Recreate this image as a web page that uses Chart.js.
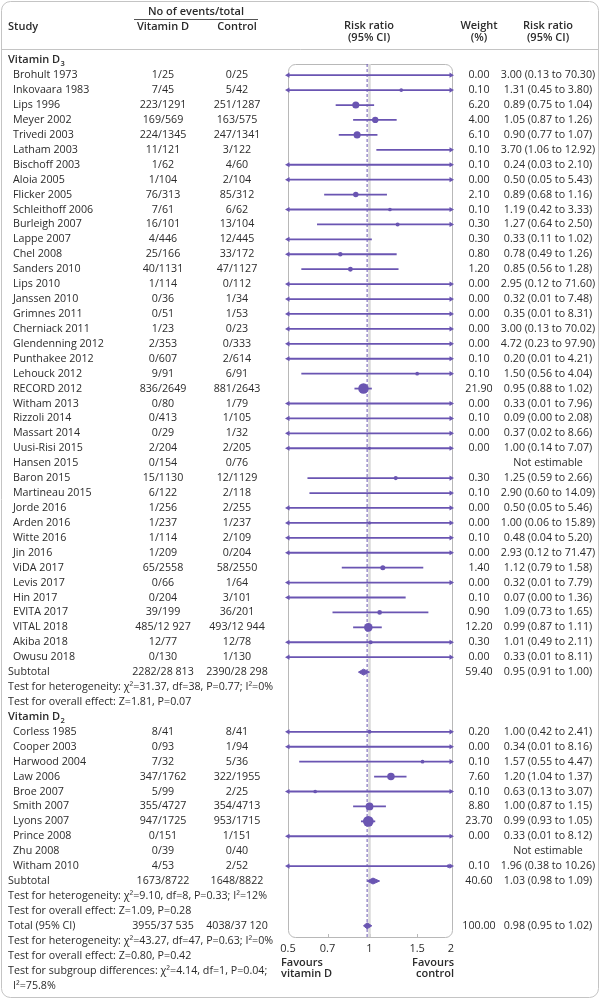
<!DOCTYPE html>
<html>
<head>
<meta charset="utf-8">
<script src="https://cdn.jsdelivr.net/npm/chart.js@4.4.1/dist/chart.umd.min.js"></script>
<style>
  html, body { margin: 0; padding: 0; background: #fff; }
  canvas { display: block; }
</style>
</head>
<body>
<canvas id="forest" width="601" height="1000"></canvas>
<script>
'use strict';

// Vitamin D3 trials
const d3Studies = ['Brohult 1973', 'Inkovaara 1983', 'Lips 1996', 'Meyer 2002', 'Trivedi 2003', 'Latham 2003',
  'Bischoff 2003', 'Aloia 2005', 'Flicker 2005', 'Schleithoff 2006', 'Burleigh 2007', 'Lappe 2007', 'Chel 2008',
  'Sanders 2010', 'Lips 2010', 'Janssen 2010', 'Grimnes 2011', 'Cherniack 2011', 'Glendenning 2012',
  'Punthakee 2012', 'Lehouck 2012', 'RECORD 2012', 'Witham 2013', 'Rizzoli 2014', 'Massart 2014',
  'Uusi-Risi 2015', 'Hansen 2015', 'Baron 2015', 'Martineau 2015', 'Jorde 2016', 'Arden 2016', 'Witte 2016',
  'Jin 2016', 'ViDA 2017', 'Levis 2017', 'Hin 2017', 'EVITA 2017', 'VITAL 2018', 'Akiba 2018', 'Owusu 2018'];
const d3VitD = ['1/25', '7/45', '223/1291', '169/569', '224/1345', '11/121', '1/62', '1/104', '76/313', '7/61',
  '16/101', '4/446', '25/166', '40/1131', '1/114', '0/36', '0/51', '1/23', '2/353', '0/607', '9/91', '836/2649',
  '0/80', '0/413', '0/29', '2/204', '0/154', '15/1130', '6/122', '1/256', '1/237', '1/114', '1/209', '65/2558',
  '0/66', '0/204', '39/199', '485/12 927', '12/77', '0/130'];
const d3Control = ['0/25', '5/42', '251/1287', '163/575', '247/1341', '3/122', '4/60', '2/104', '85/312', '6/62',
  '13/104', '12/445', '33/172', '47/1127', '0/112', '1/34', '1/53', '0/23', '0/333', '2/614', '6/91', '881/2643',
  '1/79', '1/105', '1/32', '2/205', '0/76', '12/1129', '2/118', '2/255', '1/237', '2/109', '0/204', '58/2550',
  '1/64', '3/101', '36/201', '493/12 944', '12/78', '1/130'];
const d3Weight = [0.00, 0.10, 6.20, 4.00, 6.10, 0.10, 0.10, 0.00, 2.10, 0.10, 0.30, 0.30, 0.80, 1.20, 0.00, 0.00,
  0.00, 0.00, 0.00, 0.10, 0.10, 21.90, 0.00, 0.10, 0.00, 0.00, null, 0.30, 0.10, 0.00, 0.00, 0.10, 0.00, 1.40,
  0.00, 0.10, 0.90, 12.20, 0.30, 0.00];
const d3RR = [3.00, 1.31, 0.89, 1.05, 0.90, 3.70, 0.24, 0.50, 0.89, 1.19, 1.27, 0.33, 0.78, 0.85, 2.95, 0.32,
  0.35, 3.00, 4.72, 0.20, 1.50, 0.95, 0.33, 0.09, 0.37, 1.00, null, 1.25, 2.90, 0.50, 1.00, 0.48, 2.93, 1.12,
  0.32, 0.07, 1.09, 0.99, 1.01, 0.33];
const d3Low = [0.13, 0.45, 0.75, 0.87, 0.77, 1.06, 0.03, 0.05, 0.68, 0.42, 0.64, 0.11, 0.49, 0.56, 0.12, 0.01,
  0.01, 0.13, 0.23, 0.01, 0.56, 0.88, 0.01, 0.00, 0.02, 0.14, null, 0.59, 0.60, 0.05, 0.06, 0.04, 0.12, 0.79,
  0.01, 0.00, 0.73, 0.87, 0.49, 0.01];
const d3High = [70.30, 3.80, 1.04, 1.26, 1.07, 12.92, 2.10, 5.43, 1.16, 3.33, 2.50, 1.02, 1.26, 1.28, 71.60, 7.48,
  8.31, 70.02, 97.90, 4.21, 4.04, 1.02, 7.96, 2.08, 8.66, 7.07, null, 2.66, 14.09, 5.46, 15.89, 5.20, 71.47, 1.58,
  7.79, 1.36, 1.65, 1.11, 2.11, 8.11];
const d3Tests = ['Test for heterogeneity: χ²=31.37, df=38, P=0.77; I²=0%', 'Test for overall effect: Z=1.81, P=0.07'];

// Vitamin D2 trials
const d2Studies = ['Corless 1985', 'Cooper 2003', 'Harwood 2004', 'Law 2006', 'Broe 2007', 'Smith 2007',
  'Lyons 2007', 'Prince 2008', 'Zhu 2008', 'Witham 2010'];
const d2VitD = ['8/41', '0/93', '7/32', '347/1762', '5/99', '355/4727', '947/1725', '0/151', '0/39', '4/53'];
const d2Control = ['8/41', '1/94', '5/36', '322/1955', '2/25', '354/4713', '953/1715', '1/151', '0/40', '2/52'];
const d2Weight = [0.20, 0.00, 0.10, 7.60, 0.10, 8.80, 23.70, 0.00, null, 0.10];
const d2RR = [1.00, 0.34, 1.57, 1.20, 0.63, 1.00, 0.99, 0.33, null, 1.96];
const d2Low = [0.42, 0.01, 0.55, 1.04, 0.13, 0.87, 0.93, 0.01, null, 0.38];
const d2High = [2.41, 8.16, 4.47, 1.37, 3.07, 1.15, 1.05, 8.12, null, 10.26];
const d2Tests = ['Test for heterogeneity: χ²=9.10, df=8, P=0.33; I²=12%', 'Test for overall effect: Z=1.09, P=0.28'];

// pooled rows: D3 subtotal, D2 subtotal, total
const pooledLabels = ['Subtotal', 'Subtotal', 'Total (95% CI)'];
const pooledVitD = ['2282/28 813', '1673/8722', '3955/37 535'];
const pooledControl = ['2390/28 298', '1648/8822', '4038/37 120'];
const pooledWeight = [59.40, 40.60, 100.00];
const pooledRR = [0.95, 1.03, 0.98];
const pooledLow = [0.91, 0.98, 0.95];
const pooledHigh = [1.00, 1.09, 1.02];
const totalTests = ['Test for heterogeneity: χ²=43.27, df=47, P=0.63; I²=0%', 'Test for overall effect: Z=0.80, P=0.42',
  'Test for subgroup differences: χ²=4.14, df=1, P=0.04;'];
const totalTestsCont = 'I²=75.8%';

const xTicks = [0.5, 0.7, 1, 1.5, 2];

const PURPLE = '#6a55b2';
const TEXT = '#2b2b2b';
const FONT = '"Open Sans", sans-serif';
const X_MIN = 0.5, X_MAX = 2;

// build the row list, top to bottom
const rows = [];
function addStudies(names, vitD, ctrl, w, rr, lo, hi) {
  names.forEach((n, i) => rows.push({ kind: 'study', label: n, vitD: vitD[i], ctrl: ctrl[i], w: w[i], rr: rr[i], lo: lo[i], hi: hi[i] }));
}
function addPooled(i) {
  rows.push({ kind: 'pooled', label: pooledLabels[i], vitD: pooledVitD[i], ctrl: pooledControl[i], w: pooledWeight[i], rr: pooledRR[i], lo: pooledLow[i], hi: pooledHigh[i] });
}
rows.push({ kind: 'group', label: 'Vitamin D', sub: '3' });
addStudies(d3Studies, d3VitD, d3Control, d3Weight, d3RR, d3Low, d3High);
addPooled(0);
d3Tests.forEach(t => rows.push({ kind: 'note', label: t }));
rows.push({ kind: 'group', label: 'Vitamin D', sub: '2' });
addStudies(d2Studies, d2VitD, d2Control, d2Weight, d2RR, d2Low, d2High);
addPooled(1);
d2Tests.forEach(t => rows.push({ kind: 'note', label: t }));
addPooled(2);
totalTests.forEach(t => rows.push({ kind: 'note', label: t }));
rows.push({ kind: 'note2', label: totalTestsCont });
rows.forEach((r, i) => { r.y = i - 1; });

const clamp = v => Math.min(X_MAX, Math.max(X_MIN, v));
const studyRows = rows.filter(r => r.kind === 'study' && r.rr != null);
const pooledRows = rows.filter(r => r.kind === 'pooled');

// CI lines
const ciSets = studyRows.map(r => ({
  type: 'line',
  data: [{ x: clamp(r.lo), y: r.y }, { x: clamp(r.hi), y: r.y }],
  borderColor: PURPLE, borderWidth: 1.8, pointRadius: 0, fill: false
}));

// arrow heads where the CI runs off the scale
const arrows = [];
studyRows.forEach(r => {
  if (r.lo < X_MIN) arrows.push({ x: X_MIN, y: r.y, rot: 270 });
  if (r.hi > X_MAX) arrows.push({ x: X_MAX, y: r.y, rot: 90 });
});

// pooled diamonds
const diamondSets = pooledRows.map(r => ({
  type: 'line',
  data: [{ x: r.lo, y: r.y }, { x: r.rr, y: r.y - 0.2 }, { x: r.hi, y: r.y }, { x: r.rr, y: r.y + 0.2 }, { x: r.lo, y: r.y }],
  borderColor: PURPLE, backgroundColor: PURPLE, borderWidth: 1, pointRadius: 0, fill: 'shape'
}));

const Y_MIN = -0.75, Y_MAX = 57.75;

const datasets = [
  {
    data: studyRows.map(r => ({ x: r.rr, y: r.y })),
    pointRadius: studyRows.map(r => 1.6 + 0.78 * Math.sqrt(r.w)),
    pointBackgroundColor: PURPLE, pointBorderWidth: 0
  },
  {
    data: arrows.map(a => ({ x: a.x, y: a.y })),
    pointStyle: 'triangle',
    rotation: arrows.map(a => a.rot),
    pointRadius: 3, pointBackgroundColor: PURPLE, pointBorderWidth: 0,
    clip: false
  },
  ...diamondSets,
  ...ciSets,
  {
    type: 'line',
    data: [{ x: pooledRR[2], y: Y_MIN }, { x: pooledRR[2], y: Y_MAX }],
    borderColor: PURPLE, borderWidth: 1, borderDash: [3, 2], pointRadius: 0, fill: false
  },
  {
    type: 'line',
    data: [{ x: 1, y: Y_MIN }, { x: 1, y: Y_MAX }],
    borderColor: '#dadada', borderWidth: 2.5, pointRadius: 0, fill: false
  }
];

function roundRect(ctx, x, y, w, h, r) {
  ctx.beginPath();
  ctx.moveTo(x + r, y);
  ctx.arcTo(x + w, y, x + w, y + h, r);
  ctx.arcTo(x + w, y + h, x, y + h, r);
  ctx.arcTo(x, y + h, x, y, r);
  ctx.arcTo(x, y, x + w, y, r);
  ctx.closePath();
}

function txt(ctx, s, x, y, align, bold, size) {
  ctx.font = (bold ? '600 ' : '') + (size || 10.7) + 'px ' + FONT;
  ctx.textAlign = align || 'left';
  ctx.textBaseline = 'middle';
  ctx.fillStyle = TEXT;
  ctx.fillText(s, x, y);
}

const COL = { group: 8, study: 13, vitD: 163, ctrl: 237, plot: 369, weight: 479, rr: 548 };
const fmtRR = r => r.rr == null ? 'Not estimable' : `${r.rr.toFixed(2)} (${r.lo.toFixed(2)} to ${r.hi.toFixed(2)})`;

const forestText = {
  id: 'forestText',
  beforeDraw(chart) {
    const ctx = chart.ctx;
    ctx.save();
    ctx.strokeStyle = '#c4c4c4';
    ctx.lineWidth = 1;
    roundRect(ctx, 1.5, 1.5, 597, 996, 9);
    ctx.stroke();
    ctx.beginPath();
    ctx.moveTo(1.5, 49.5);
    ctx.lineTo(599, 49.5);
    ctx.stroke();
    ctx.restore();
  },
  beforeDatasetsDraw(chart) {
    const ctx = chart.ctx, a = chart.chartArea;
    ctx.save();
    ctx.strokeStyle = '#b8b8b8';
    ctx.lineWidth = 1;
    roundRect(ctx, a.left + 0.5, a.top + 0.5, a.right - a.left + 1, a.bottom - a.top, 7);
    ctx.stroke();
    // small inner tick marks
    const xs = chart.scales.x;
    xs.ticks.forEach(t => {
      if (t.value === X_MIN || t.value === X_MAX) return;
      const px = Math.round(xs.getPixelForValue(t.value)) + 0.5;
      ctx.beginPath();
      ctx.moveTo(px, a.bottom);
      ctx.lineTo(px, a.bottom - 3);
      ctx.stroke();
    });
    ctx.restore();
  },
  afterDraw(chart) {
    const ctx = chart.ctx, ys = chart.scales.y, a = chart.chartArea;
    ctx.save();
    // column headers
    txt(ctx, 'No of events/total', 196, 12, 'center', true, 11);
    ctx.strokeStyle = '#555';
    ctx.lineWidth = 1;
    ctx.beginPath();
    ctx.moveTo(134, 19.5);
    ctx.lineTo(258, 19.5);
    ctx.stroke();
    txt(ctx, 'Study', COL.group, 27, 'left', true, 11);
    txt(ctx, 'Vitamin D', COL.vitD, 27, 'center', true, 11);
    txt(ctx, 'Control', COL.ctrl, 27, 'center', true, 11);
    txt(ctx, 'Risk ratio', COL.plot, 26, 'center', true, 11);
    txt(ctx, '(95% CI)', COL.plot, 38, 'center', true, 11);
    txt(ctx, 'Weight', COL.weight, 26, 'center', true, 11);
    txt(ctx, '(%)', COL.weight, 38, 'center', true, 11);
    txt(ctx, 'Risk ratio', COL.rr, 26, 'center', true, 11);
    txt(ctx, '(95% CI)', COL.rr, 38, 'center', true, 11);

    rows.forEach(r => {
      const py = ys.getPixelForValue(r.y);
      if (r.kind === 'group') {
        txt(ctx, r.label, COL.group, py, 'left', true, 11);
        const w = ctx.measureText(r.label).width;
        txt(ctx, r.sub, COL.group + w + 0.5, py + 3.5, 'left', true, 7.5);
      } else if (r.kind === 'note') {
        txt(ctx, r.label, COL.group, py);
      } else if (r.kind === 'note2') {
        txt(ctx, r.label, COL.study, py);
      } else {
        txt(ctx, r.label, r.kind === 'study' ? COL.study : COL.group, py);
        txt(ctx, r.vitD, COL.vitD, py, 'center');
        txt(ctx, r.ctrl, COL.ctrl, py, 'center');
        if (r.w != null) txt(ctx, r.w.toFixed(2), COL.weight, py, 'center');
        txt(ctx, fmtRR(r), COL.rr, py, 'center');
      }
    });

    // favours labels under the axis
    txt(ctx, 'Favours', a.left - 7, 963, 'left', true, 11);
    txt(ctx, 'vitamin D', a.left - 7, 974, 'left', true, 11);
    txt(ctx, 'Favours', a.right + 3, 963, 'right', true, 11);
    txt(ctx, 'control', a.right + 3, 974, 'right', true, 11);
    ctx.restore();
  }
};

new Chart(document.getElementById('forest'), {
  type: 'scatter',
  data: { datasets: datasets },
  plugins: [forestText],
  options: {
    responsive: false,
    animation: false,
    devicePixelRatio: 1,
    events: [],
    layout: { padding: { left: 288, right: 150, top: 64, bottom: 39 } },
    plugins: { legend: { display: false }, tooltip: { enabled: false } },
    scales: {
      x: {
        type: 'logarithmic',
        min: X_MIN,
        max: X_MAX,
        grid: { display: false, drawTicks: false },
        border: { display: false },
        afterBuildTicks: (scale) => { scale.ticks = xTicks.map(v => ({ value: v })); },
        afterFit: (scale) => { scale.height = 24; },
        ticks: {
          padding: 5,
          color: TEXT,
          font: { family: FONT, size: 11 },
          autoSkip: false,
          maxRotation: 0,
          callback: (val) => String(val)
        }
      },
      y: { type: 'linear', reverse: true, min: Y_MIN, max: Y_MAX, display: false }
    }
  }
});
</script>
</body>
</html>
